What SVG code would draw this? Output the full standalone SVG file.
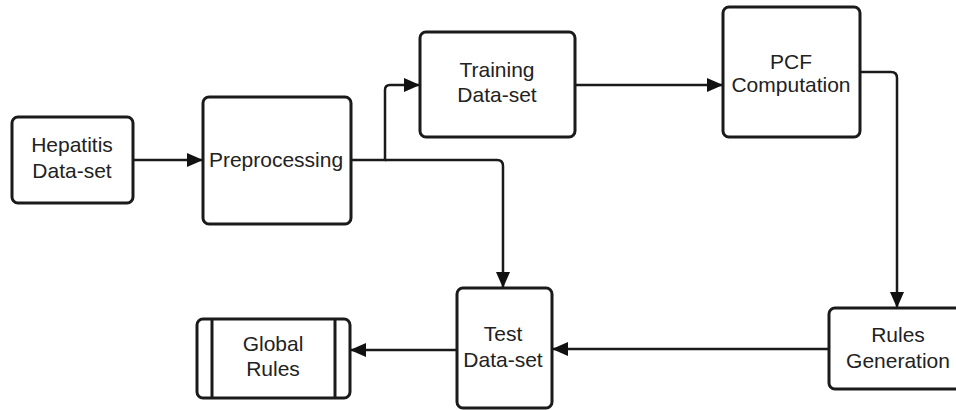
<svg xmlns="http://www.w3.org/2000/svg" width="956" height="410" viewBox="0 0 956 410">
<style>
.box{fill:#fff;stroke:#1a1a1a;stroke-width:3}
.ln{fill:none;stroke:#1a1a1a;stroke-width:2.5}
.t{font-family:"Liberation Sans",Arial,sans-serif;font-size:21px;fill:#222;text-anchor:middle}
</style>
<defs>
<marker id="ah" markerUnits="userSpaceOnUse" markerWidth="16" markerHeight="14" refX="15" refY="7" orient="auto">
<path d="M0,0 L16,7 L0,14 Z" fill="#111"/>
</marker>
</defs>
<rect width="956" height="410" fill="#fff"/>
<g id="connectors">
<path class="ln" d="M133,160 H202" marker-end="url(#ah)"/>
<path class="ln" d="M351,160 H385 V90 Q385,85 390,85 H419" marker-end="url(#ah)"/>
<path class="ln" d="M385,160 H497 Q503,160 503,166 V287" marker-end="url(#ah)"/>
<path class="ln" d="M575,85 H722" marker-end="url(#ah)"/>
<path class="ln" d="M860,72 H891 Q897,72 897,78 V307" marker-end="url(#ah)"/>
<path class="ln" d="M829,349 H553" marker-end="url(#ah)"/>
<path class="ln" d="M457,350 H351" marker-end="url(#ah)"/>
</g>
<g id="hepatitis">
<rect class="box" x="12" y="117" width="121" height="86" rx="6"/>
<text class="t" x="72" y="152">Hepatitis</text>
<text class="t" x="72" y="178">Data-set</text>
</g>
<g id="preprocessing">
<rect class="box" x="203" y="97" width="148" height="127" rx="6"/>
<text class="t" x="276" y="167">Preprocessing</text>
</g>
<g id="training">
<rect class="box" x="420" y="32" width="155" height="105" rx="6"/>
<text class="t" x="497" y="77">Training</text>
<text class="t" x="497" y="102">Data-set</text>
</g>
<g id="pcf">
<rect class="box" x="723" y="7" width="137" height="130" rx="6"/>
<text class="t" x="791" y="69">PCF</text>
<text class="t" x="791" y="92">Computation</text>
</g>
<g id="rules-generation">
<rect class="box" x="829" y="308" width="138" height="81" rx="6"/>
<text class="t" x="898" y="342">Rules</text>
<text class="t" x="898" y="368">Generation</text>
</g>
<g id="test">
<rect class="box" x="457" y="288" width="95" height="120" rx="6"/>
<text class="t" x="503" y="341">Test</text>
<text class="t" x="503" y="367">Data-set</text>
</g>
<g id="global-rules">
<rect class="box" x="197" y="319" width="153" height="79" rx="6"/>
<line class="box" x1="212" y1="319" x2="212" y2="398"/>
<line class="box" x1="335" y1="319" x2="335" y2="398"/>
<text class="t" x="273" y="351">Global</text>
<text class="t" x="273" y="376">Rules</text>
</g>
</svg>
